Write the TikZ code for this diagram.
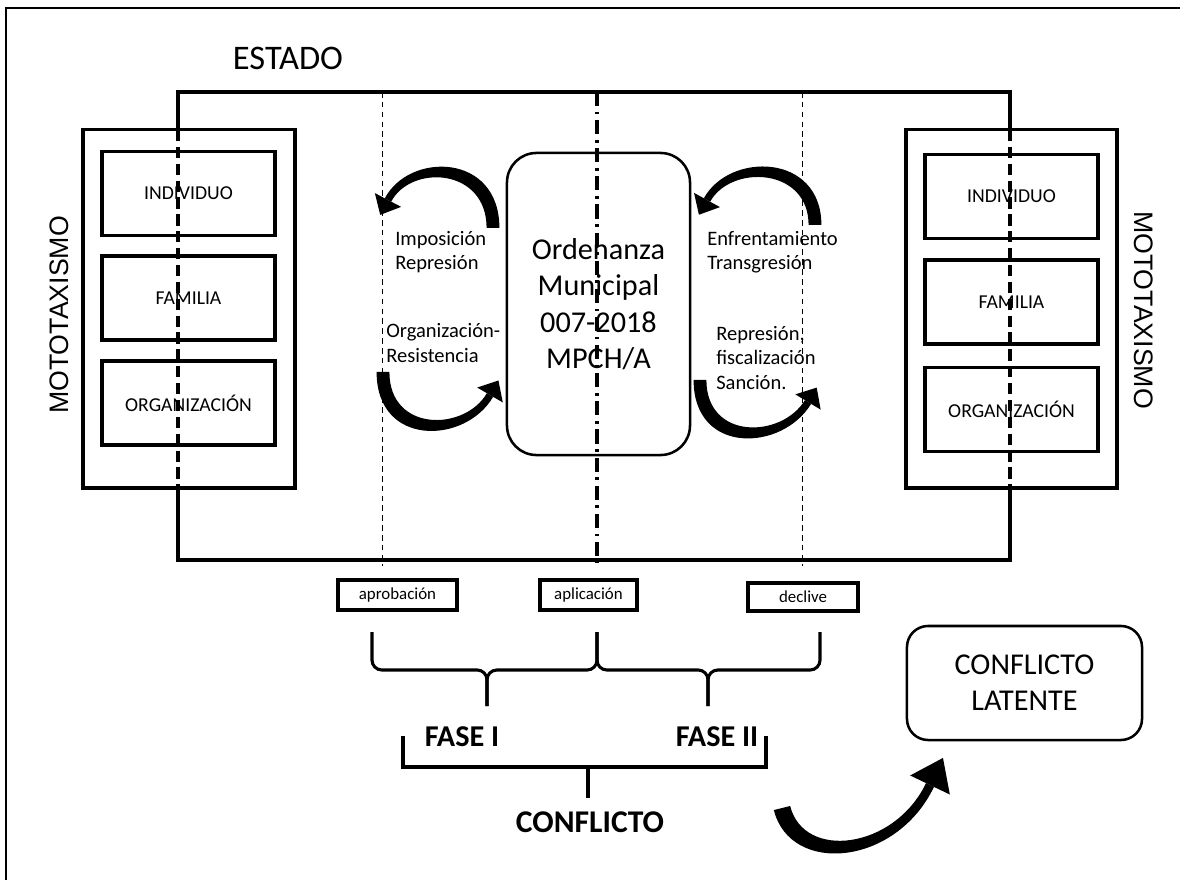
\documentclass[tikz,border=0pt]{standalone}
\usepackage{fontspec}
\setmainfont{Carlito}
\newfontfamily\arialfont{Liberation Sans}
\usetikzlibrary{calc}

\tikzset{
  linea/.style={line width=2.2pt},
  fina/.style={line width=0.7pt, dash pattern=on 4pt off 3pt},
  corte/.style={line width=2.2pt, dash pattern=on 8pt off 4pt},
  eje/.style={line width=2.2pt, dash pattern=on 10pt off 4pt on 2pt off 4pt},
  mtbox/.style={draw, line width=2.2pt, minimum width=5.3cm, minimum height=8.95cm},
  caja/.style={draw, line width=2.2pt, minimum width=4.325cm, minimum height=2.1cm,
    inner sep=0pt, font=\fontsize{14}{16}\selectfont},
  etiq/.style={draw, line width=2.2pt, minimum height=0.75cm, inner sep=0pt,
    font=\fontsize{12}{14}\selectfont},
  texto/.style={anchor=west, align=left, inner sep=0pt, font=\fontsize{14.6}{17.4}\selectfont},
  llave/.style={line width=2.2pt},
  fase/.style={font=\bfseries\fontsize{21.5}{25}\selectfont},
}

% flecha curva ahusada: #1..#4 curva, #5 #6 medio grosor, #7 largo y #8 medio ancho de la punta, #9 ajuste de brazos
\newcommand{\flecha}[9]{%
  \fill ($(#1)!#5!90:(#2)$) .. controls ($(#2)!#5!-90:(#1) - #9*(#2) + #9*(#1)$) and ($(#3)!#6!90:(#4) - #9*(#3) + #9*(#4)$) .. ($(#4)!#6!-90:(#3)$)
    -- ($(#4)!#6!90:(#3)$) .. controls ($(#3)!#6!-90:(#4) + #9*(#3) - #9*(#4)$) and ($(#2)!#5!90:(#1) + #9*(#2) - #9*(#1)$) .. ($(#1)!#5!-90:(#2)$) -- cycle;
  \fill ($(#4)!#8!90:(#3)$) -- ($(#4)!-#7!(#3)$) -- ($(#4)!#8!-90:(#3)$) -- cycle;
}

\begin{document}
\begin{tikzpicture}[x=0.025cm,y=-0.025cm]
\useasboundingbox (0,0) rectangle (1180,880);
% marco
\draw[line width=1.5pt] (6,880) -- (6,8) -- (1180,8);

\node[font=\fontsize{24.5}{28}\selectfont] (estado) at (288,58) {ESTADO};

% caja del estado
\draw[linea] (178,130) -- (178,92) -- (1010,92) -- (1010,130);
\draw[linea] (178,488) -- (178,560) -- (1010,560) -- (1010,488);
\draw[corte] (178,130) -- (178,488);
\draw[corte] (1010,130) -- (1010,488);
\draw[fina] (382,92) -- (382,566);
\draw[fina] (802,92) -- (802,566);
\draw[eje] (597,92) -- (597,562);

% mototaxismo izquierda
\node[mtbox] (mtI) at (189,309) {};
\node[caja] (indI) at (188.5,193.5) {INDIVIDUO};
\node[caja] (famI) at (188.5,298) {FAMILIA};
\node[caja] (orgI) at (188.5,403) {ORGANIZACIÓN};
\node[rotate=90, font=\arialfont\fontsize{19}{22}\selectfont] (motoI) at (59,315) {MOTOTAXISMO};

% mototaxismo derecha
\node[mtbox, minimum width=5.275cm] (mtD) at (1011.5,309) {};
\node[caja] (indD) at (1011.5,196.5) {INDIVIDUO};
\node[caja] (famD) at (1011.5,302) {FAMILIA};
\node[caja] (orgD) at (1011.5,409.5) {ORGANIZACIÓN};
\node[rotate=-90, font=\arialfont\fontsize{19}{22}\selectfont] (motoD) at (1144,310) {MOTOTAXISMO};

% ordenanza
\node[draw, line width=1.8pt, rounded corners=21pt, minimum width=4.575cm, minimum height=7.55cm,
  align=center, font=\fontsize{21.5}{26}\selectfont] (ord) at (598.5,304)
  {Ordenanza\\Municipal\\007-2018\\MPCH/A};

\node[texto] (impo) at (395,252) {Imposición\\Represión};
\node[texto] (resis) at (386,343) {Organización-\\Resistencia};
\node[texto] (enfr) at (707,252) {Enfrentamiento\\Transgresión};
\node[texto] (sanc) at (716,358) {Represión,\\fiscalización\\Sanción.};

% flechas curvas
\coordinate (a0) at (493,228); \coordinate (a1) at (493,160); \coordinate (a2) at (410,158); \coordinate (a3) at (388,200);
\coordinate (b0) at (383,372); \coordinate (b1) at (383,440); \coordinate (b2) at (465,438); \coordinate (b3) at (490,395);
\coordinate (c0) at (815,225); \coordinate (c1) at (815,160); \coordinate (c2) at (730,158); \coordinate (c3) at (707,200);
\coordinate (d0) at (700,380); \coordinate (d1) at (700,448); \coordinate (d2) at (782,445); \coordinate (d3) at (808,402);
\flecha{a0}{a1}{a2}{a3}{0.16cm}{0.09cm}{0.42cm}{0.37cm}{0.11}
\flecha{b0}{b1}{b2}{b3}{0.16cm}{0.09cm}{0.42cm}{0.37cm}{0.11}
\flecha{c0}{c1}{c2}{c3}{0.16cm}{0.09cm}{0.42cm}{0.37cm}{0.11}
\flecha{d0}{d1}{d2}{d3}{0.16cm}{0.09cm}{0.42cm}{0.37cm}{0.11}

% etapas
\node[etiq, minimum width=2.975cm] (aprob) at (397.5,595) {aprobación};
\node[etiq, minimum width=2.425cm] (aplic) at (588.5,595) {aplicación};
\node[etiq, minimum width=2.75cm, minimum height=0.7cm] (decl) at (803,597) {declive};

\draw[llave, rounded corners=7pt] (372,632) -- (372,670) -- (487,670) -- (487,706);
\draw[llave, rounded corners=7pt] (597,632) -- (597,670) -- (487,670) -- (487,706);
\draw[llave, rounded corners=7pt] (597,632) -- (597,670) -- (708,670) -- (708,706);
\draw[llave, rounded corners=7pt] (820,632) -- (820,670) -- (708,670) -- (708,706);

\node[fase] (f1) at (462,737) {FASE I};
\node[fase] (f2) at (717,737) {FASE II};
\draw[llave] (403,736) |- (766,767) -- (766,736);
\draw[llave] (588,767) -- (588,798);
\node[fase, font=\bfseries\fontsize{22.5}{26}\selectfont] (confl) at (590,822) {CONFLICTO};

\node[draw, line width=1.8pt, rounded corners=15pt, minimum width=5.875cm, minimum height=2.85cm,
  align=center, font=\fontsize{21.5}{25.5}\selectfont] (latente) at (1024.5,683) {CONFLICTO\\LATENTE};

\coordinate (g0) at (782,808); \coordinate (g1) at (797,868); \coordinate (g2) at (895,858); \coordinate (g3) at (930,785);
\flecha{g0}{g1}{g2}{g3}{0.21cm}{0.11cm}{0.75cm}{0.55cm}{0.09}
\end{tikzpicture}
\end{document}
